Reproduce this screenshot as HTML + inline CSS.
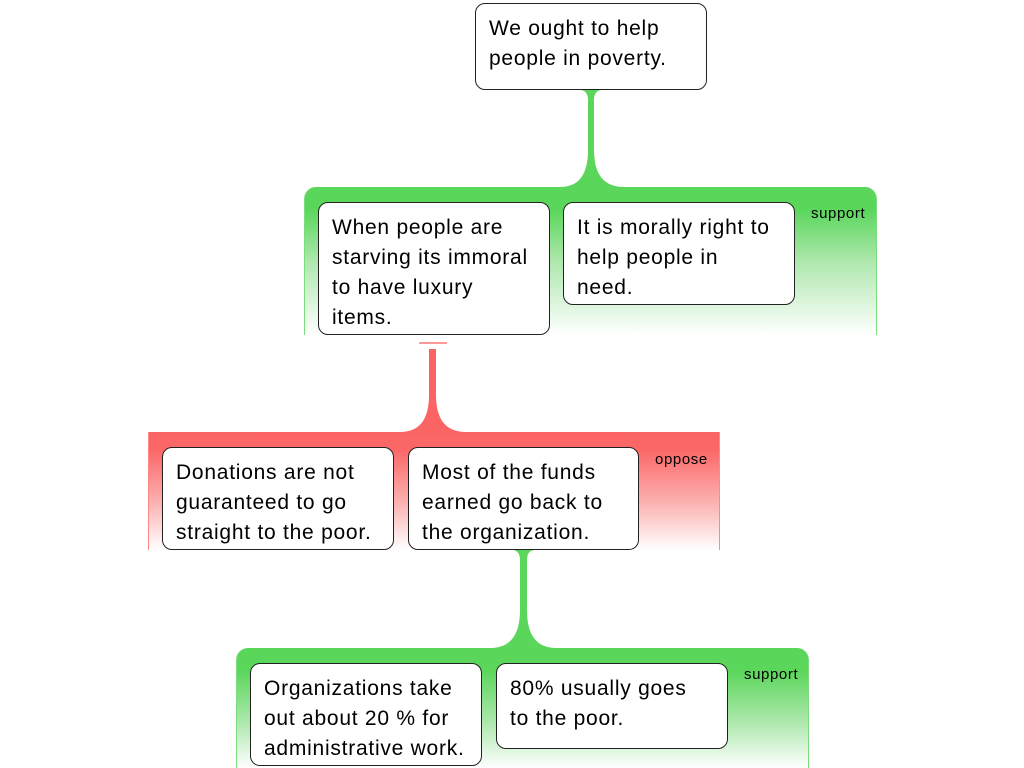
<!DOCTYPE html>
<html><head><meta charset="utf-8"><style>
body{margin:0;width:1024px;height:768px;background:#fff;position:relative;overflow:hidden;font-family:"Liberation Sans",Arial,sans-serif}
.g{position:absolute;box-sizing:border-box}
.gs{background:linear-gradient(to bottom,#5ad65a 0px,#5ad65a 22px,#aee8ae 75px,#fff 100%);border-left:1px solid #7ddc7d;border-right:1px solid #7ddc7d;border-radius:12px 12px 0 0}
.go{background:linear-gradient(to bottom,#fb6464 0px,#fb6767 18px,#fcb0b0 70px,#fff 100%);border-left:1px solid #f88;border-right:1px solid #f88}
.b{position:absolute;box-sizing:border-box;background:#fff;border:1px solid #222;border-radius:10px;padding:10px 13px;font-size:21px;line-height:30px;color:#000;letter-spacing:0.75px;white-space:nowrap}
.l{position:absolute;font-size:15px;color:#000;letter-spacing:0.6px}
svg{position:absolute;left:0;top:0}
</style></head><body>
<div class="g gs" style="left:304px;top:187px;width:573px;height:148px"></div>
<div class="g go" style="left:148px;top:432px;width:572px;height:118px"></div>
<div class="g gs" style="left:236px;top:648px;width:573px;height:120px"></div>
<svg width="1024" height="768">
<path d="M581,90 Q588,91 588,100 L588,150 Q588,187 560,187 L624,187 Q594,187 594,150 L594,100 Q594,91 601,90 Z" fill="#5ad65a"/>
<rect x="419" y="342" width="28" height="2" fill="#f99"/>
<path d="M429,349 L429,395 Q429,432 400,432 L466,432 Q436,432 436,395 L436,349 Z" fill="#fb6464"/>
<path d="M513,550 Q520,551 520,560 L520,610 Q520,648 490,648 L556,648 Q527,648 527,610 L527,560 Q527,551 534,550 Z" fill="#5ad65a"/>
</svg>
<div class="b" style="left:475px;top:3px;width:232px;height:87px">We ought to help<br>people in poverty.</div>
<div class="b" style="left:318px;top:202px;width:232px;height:133px">When people are<br>starving its immoral<br>to have luxury<br>items.</div>
<div class="b" style="left:563px;top:202px;width:232px;height:103px">It is morally right to<br>help people in<br>need.</div>
<div class="l" style="left:811px;top:205px">support</div>
<div class="b" style="left:162px;top:447px;width:232px;height:103px">Donations are not<br>guaranteed to go<br>straight to the poor.</div>
<div class="b" style="left:408px;top:447px;width:231px;height:103px">Most of the funds<br>earned go back to<br>the organization.</div>
<div class="l" style="left:655px;top:451px">oppose</div>
<div class="b" style="left:250px;top:663px;width:232px;height:103px">Organizations take<br>out about 20 % for<br>administrative work.</div>
<div class="b" style="left:496px;top:663px;width:232px;height:86px">80% usually goes<br>to the poor.</div>
<div class="l" style="left:744px;top:666px">support</div>
</body></html>
